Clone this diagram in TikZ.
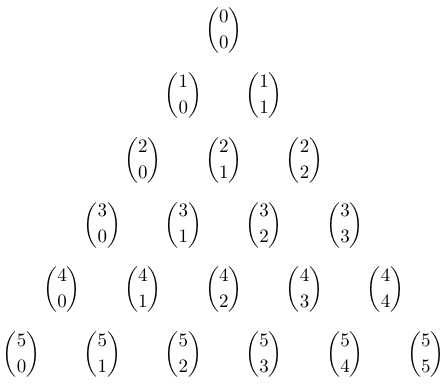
\documentclass[tikz,border=0pt]{standalone}
\usepackage{amsmath}
\usepackage{tikz}
\tikzset{
  coef/.style={inner sep=0pt, outer sep=0pt}
}
\newcommand{\bc}[2]{$\displaystyle\binom{#1}{#2}$}

\begin{document}
\begin{tikzpicture}[x=1.5cm,y=1.2cm]
  \useasboundingbox (-2.767,0.478) rectangle (2.773,-5.463);
  \foreach \r in {0,...,5} {
    \foreach \k in {0,...,\r} {
      \node[coef] (c\r\k) at ({\k-\r/2},{-\r}) {\bc{\r}{\k}};
    }
  }
\end{tikzpicture}
\end{document}
